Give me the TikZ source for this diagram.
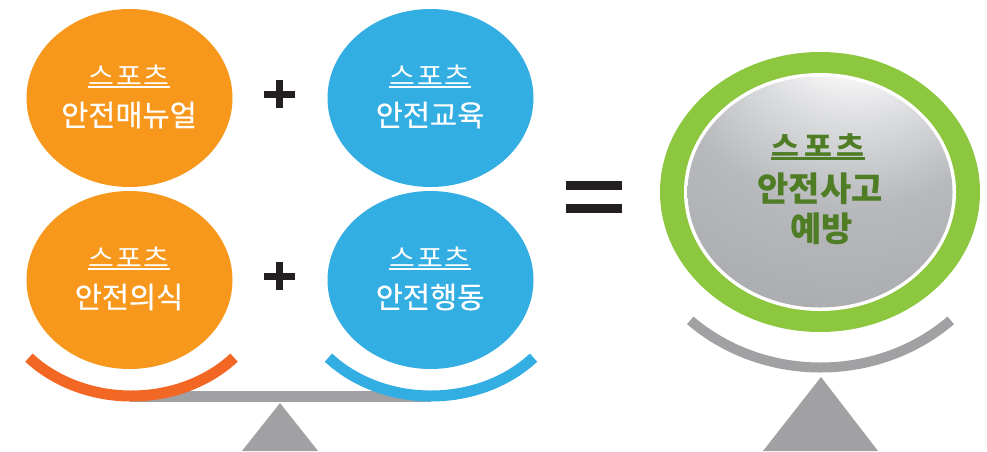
\documentclass[tikz,border=0pt]{standalone}
\usepackage{fontspec}
\newfontfamily\kr{Noto Sans CJK KR}
\newfontfamily\krm[FakeBold=0.4]{Noto Sans CJK KR}
\newfontfamily\krw[FakeStretch=1.1]{Noto Sans CJK KR}
\usetikzlibrary{shapes.geometric}
\definecolor{orangeC}{HTML}{F7981D}
\definecolor{blueC}{HTML}{33AEE3}
\definecolor{arcO}{HTML}{F26724}
\definecolor{grayC}{HTML}{A1A1A4}
\definecolor{darkC}{HTML}{231F20}
\definecolor{greenC}{HTML}{8DC63F}
\definecolor{tgreen}{HTML}{4E7D25}
\definecolor{sA}{HTML}{F6F6F7}
\definecolor{sB}{HTML}{DCDDDF}
\definecolor{sC}{HTML}{B8B9BC}
\definecolor{sD}{HTML}{A7A8AC}
\definecolor{sE}{HTML}{9FA0A4}
\definecolor{sF}{HTML}{9D9EA2}
\pgfdeclareradialshading{silverdisc}{\pgfpoint{8bp}{44bp}}{color(0bp)=(white); color(13bp)=(sA); color(20bp)=(sB); color(33bp)=(sC); color(55bp)=(sD); color(65bp)=(sE); color(100bp)=(sF)}
\newcommand\skname{스\hspace{2pt}포\hspace{2pt}츠}
\newcommand\sknameb{스\hspace{5pt}포\hspace{5pt}츠}
\begin{document}
\begin{tikzpicture}[x=1pt,y=-1pt,
  disc/.style={ellipse, inner sep=0pt, minimum width=206pt, minimum height=178pt},
  wsub/.style={text=white, inner sep=0pt, font=\krw\fontsize{25.5}{25.5}\selectfont},
  wmain/.style={text=white, inner sep=0pt, font=\krm\fontsize{29.5}{29.5}\selectfont},
  wline/.style={draw=white, line width=2pt},
  gsub/.style={text=tgreen, inner sep=0pt, font=\krw\bfseries\fontsize{27.5}{27.5}\selectfont},
  gmain/.style={text=tgreen, inner sep=0pt, font=\kr\bfseries\fontsize{34}{34}\selectfont},
  gline/.style={draw=tgreen, line width=3pt},
  cuparc/.style={line width=11pt},
  plusline/.style={draw=darkC, line width=7pt},
  pan/.style={fill=grayC}]
\useasboundingbox (0,0) rectangle (987,451);
\fill[white] (0,0) rectangle (987,451);

% beam and fulcrum (left)
\fill[pan] (130,391) rectangle (431,402);
\fill[pan] (280,403) -- (242,451) -- (318,451) -- cycle;

% four discs
\node[disc, fill=orangeC] (c1) at (129.5,98) {};
\node[disc, fill=blueC] (c2) at (430.5,98) {};
\node[disc, fill=orangeC] (c3) at (129.5,280) {};
\node[disc, fill=blueC] (c4) at (430.5,280) {};

% cups under the lower discs
\coordinate (a3) at (131.5,280);
\coordinate (a4) at (431,280);
\draw[cuparc, draw=arcO] (a3) ++(42:138 and 116) arc[start angle=42, end angle=138, x radius=138, y radius=116];
\draw[cuparc, draw=blueC] (a4) ++(42:138 and 116) arc[start angle=42, end angle=138, x radius=138, y radius=116];

% texts
\node[wsub] (s1) at (129,75.5) {\skname};
\draw[wline] ([yshift=-1.5pt]s1.south west) -- ([yshift=-1.5pt]s1.south east);
\node[wmain] (m1) at (129,115) {안전매뉴얼};
\node[wsub] (s2) at (430,75.5) {\skname};
\draw[wline] ([yshift=-1.5pt]s2.south west) -- ([yshift=-1.5pt]s2.south east);
\node[wmain] (m2) at (430,115) {안전교육};
\node[wsub] (s3) at (129,257.5) {\skname};
\draw[wline] ([yshift=-1.5pt]s3.south west) -- ([yshift=-1.5pt]s3.south east);
\node[wmain] (m3) at (129,297) {안전의식};
\node[wsub] (s4) at (430,257.5) {\skname};
\draw[wline] ([yshift=-1.5pt]s4.south west) -- ([yshift=-1.5pt]s4.south east);
\node[wmain] (m4) at (430,297) {안전행동};

% plus signs
\coordinate (p1) at (279.5,94);
\coordinate (p2) at (279.5,276);
\draw[plusline] ([xshift=-15.5pt]p1) -- ([xshift=15.5pt]p1);
\draw[plusline] ([yshift=-14pt]p1) -- ([yshift=14pt]p1);
\draw[plusline] ([xshift=-15.5pt]p2) -- ([xshift=15.5pt]p2);
\draw[plusline] ([yshift=-14pt]p2) -- ([yshift=14pt]p2);

% equals sign
\fill[darkC] (566,181) rectangle (622,190);
\fill[darkC] (566,204) rectangle (622,213);

% right side: result disc
\fill[pan] (821,377) -- (763,451) -- (878,451) -- cycle;
\coordinate (ra) at (820.5,192);
\draw[line width=10pt, draw=grayC] (ra) ++(47:191 and 175.5) arc[start angle=47, end angle=133, x radius=191, y radius=175.5];
\node[ellipse, inner sep=0pt, minimum width=320pt, minimum height=280pt, fill=greenC] (g) at (820,192) {};
\node[ellipse, inner sep=0pt, minimum width=272pt, minimum height=238pt, fill=white] (w) at (820,192) {};
\node[ellipse, inner sep=0pt, minimum width=265pt, minimum height=231pt, shading=silverdisc] (sd) at (820,192) {};
\node[gsub] (s5) at (818,145) {\sknameb};
\draw[gline] ([yshift=-2pt]s5.south west) -- ([yshift=-2pt]s5.south east);
\node[gmain] (m5) at (820,189) {안전사고};
\node[gmain] (m6) at (821.5,229) {예방};
\end{tikzpicture}
\end{document}
